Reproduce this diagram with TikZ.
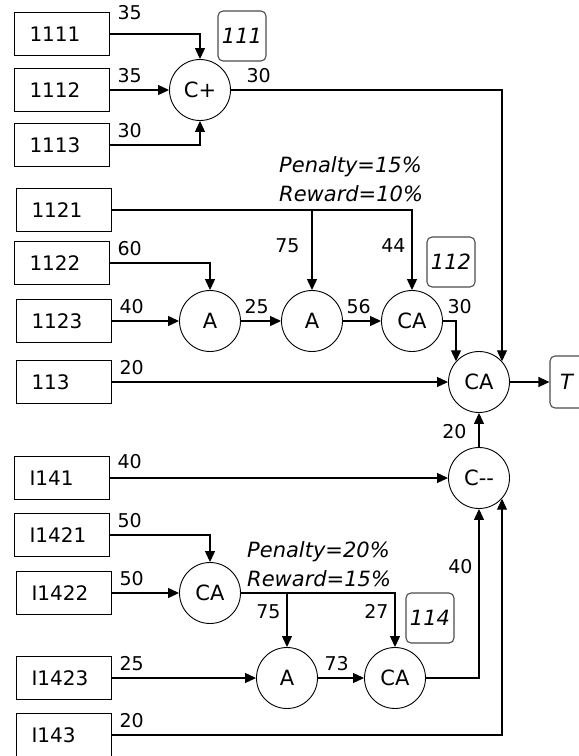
\documentclass[tikz,border=0pt]{standalone}
\usepackage{fontspec}
\setmainfont{DejaVu Sans}
\usetikzlibrary{arrows.meta, positioning}

\begin{document}
\begin{tikzpicture}[x=1pt, y=-1pt,
  src/.style={rectangle, draw, line width=1.1pt, minimum height=43pt, text width=65pt,
              inner xsep=15pt, align=left, font=\fontsize{20}{22}\selectfont},
  op/.style={circle, draw, line width=0.9pt, minimum size=61pt, inner sep=0pt,
             font=\fontsize{21}{22}\selectfont},
  tag/.style={rectangle, rounded corners=5pt, draw=black!70, line width=1.1pt,
              minimum width=48pt, minimum height=50pt, font=\fontsize{21}{22}\selectfont\itshape},
  lbl/.style={font=\fontsize{19}{20}\selectfont, inner sep=2pt},
  srclbl/.style={lbl, above right, pos=0, xshift=5pt, yshift=5pt},
  oplbl/.style={lbl, above right, pos=0, xshift=1pt, yshift=5pt},
  sidelbl/.style={lbl, left, xshift=-4pt},
  note/.style={font=\fontsize{21}{29}\selectfont\itshape, align=left, inner sep=0pt},
  arrow/.style={-{Triangle[length=11pt, width=10pt]}, line width=1.1pt}
]
\useasboundingbox (0,0) rectangle (579,756);

\node[src] (b1111)  at (62,34)  {1111};
\node[src] (b1112)  at (62,90)  {1112};
\node[src] (b1113)  at (62,145) {1113};
\node[src] (b1121)  at (64,210) {1121};
\node[src] (b1122)  at (62,263) {1122};
\node[src] (b1123)  at (64,321) {1123};
\node[src] (b113)   at (64,382) {113};
\node[src] (bI141)  at (62,478) {I141};
\node[src] (bI1421) at (62,535) {I1421};
\node[src] (bI1422) at (64,593) {I1422};
\node[src] (bI1423) at (64,678) {I1423};
\node[src] (bI143)  at (64,735) {I143};

\node[op] (cplus)  at (200,90)  {C+};
\node[op] (a1)     at (210,321) {A};
\node[op] (a2)     at (312,321) {A};
\node[op] (ca112)  at (412,321) {CA};
\node[op] (catop)  at (479,382) {CA};
\node[op] (cminus) at (479,478) {C-{}-};
\node[op] (ca3)    at (210,593) {CA};
\node[op] (a3)     at (287,678) {A};
\node[op] (ca114)  at (395,678) {CA};

\node[tag] (t111) at (242,36)  {111};
\node[tag] (t112) at (451,262) {112};
\node[tag] (t114) at (430,618) {114};
\node[tag, text width=28pt, inner xsep=10pt, align=left, minimum height=52pt] (tT) at (574,382) {T};

\node[note, anchor=north west] (pen112) at (279,156) {Penalty=15\%\\Reward=10\%};
\node[note, anchor=north west] (pen114) at (247,541) {Penalty=20\%\\Reward=15\%};

\draw[arrow] (b1111.east) -| node[srclbl, yshift=7pt]{35} (cplus.north);
\draw[arrow] (b1112.east) -- node[srclbl]{35} (cplus.west);
\draw[arrow] (b1113.east) -| node[srclbl]{30} (cplus.south);
\draw[arrow] (cplus.east) -| node[oplbl, xshift=12pt]{30} (catop.42);

\coordinate (j112) at (a2.north |- b1121.east);
\draw[arrow] (b1121.east) -| node[sidelbl, pos=0.72]{44} (ca112.north);
\draw[arrow] (j112) -- node[sidelbl, pos=0.45, xshift=-6pt]{75} (a2.north);
\draw[arrow] (b1122.east) -| node[srclbl]{60} (a1.north);
\draw[arrow] (b1123.east) -- node[srclbl]{40} (a1.west);
\draw[arrow] (a1) -- node[oplbl]{25} (a2);
\draw[arrow] (a2) -- node[oplbl]{56} (ca112);
\draw[arrow] (ca112.east) -| node[oplbl, xshift=1pt]{30} (catop.138);
\draw[arrow] (b113.east) -- node[srclbl]{20} (catop.west);
\draw[arrow] (catop) -- (tT);

\draw[arrow] (cminus) -- node[sidelbl, pos=0.45, xshift=-6pt]{20} (catop);
\draw[arrow] (bI141.east) -- node[srclbl, yshift=2pt]{40} (cminus.west);
\draw[arrow] (bI1421.east) -| node[srclbl]{50} (ca3.north);
\draw[arrow] (bI1422.east) -- node[srclbl]{50} (ca3.west);
\coordinate (j114) at (a3.north |- ca3.east);
\draw[arrow] (ca3.east) -| node[sidelbl, pos=0.67]{27} (ca114.north);
\draw[arrow] (j114) -- node[sidelbl, pos=0.35]{75} (a3.north);
\draw[arrow] (bI1423.east) -- node[srclbl]{25} (a3.west);
\draw[arrow] (a3) -- node[oplbl, xshift=3pt]{73} (ca114);
\draw[arrow] (ca114.east) -| node[sidelbl, pos=0.83]{40} (cminus.south);
\draw[arrow] (bI143.east) -| node[srclbl]{20} (cminus.-42);
\end{tikzpicture}
\end{document}
